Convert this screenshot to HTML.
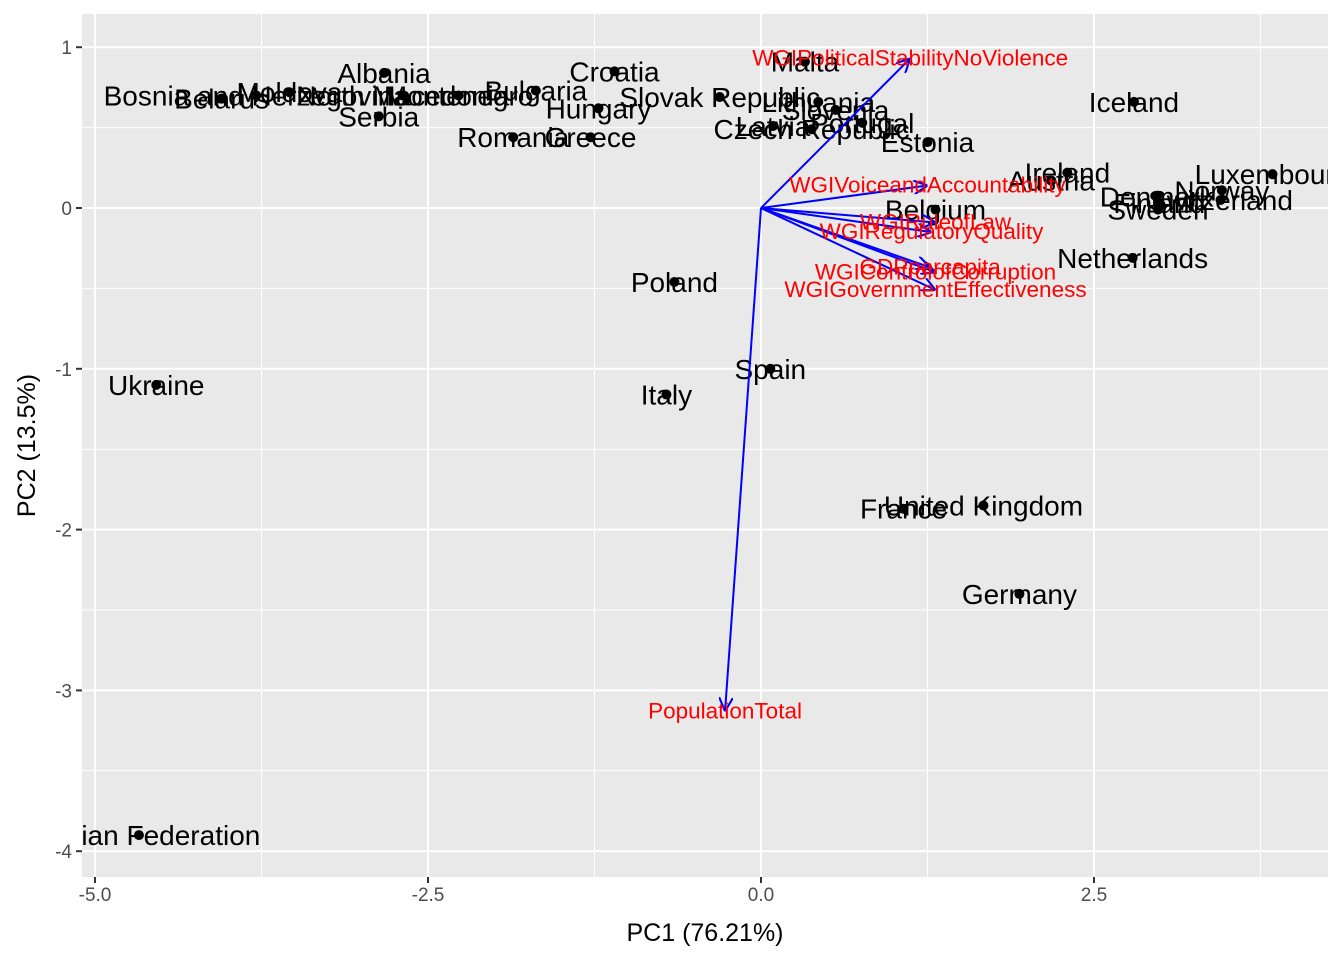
<!DOCTYPE html>
<html><head><meta charset="utf-8"><style>
body{margin:0;background:#fff;}
svg text{font-family:"Liberation Sans",Arial,sans-serif;}
</style></head><body>
<svg id="chart" width="1344" height="960" xmlns="http://www.w3.org/2000/svg"></svg>
<script>
const countries=["Bosnia and Herzegovina","Belarus","Moldova","North Macedonia","Montenegro","Albania","Serbia","Bulgaria","Croatia","Hungary","Romania","Greece","Slovak Republic","Malta","Lithuania","Slovenia","Latvia","Czech Republic","Portugal","Estonia","Iceland","Ireland","Austria","Luxembourg","Norway","Switzerland","Denmark","Finland","Sweden","Belgium","Netherlands","Poland","Spain","Italy","Ukraine","United Kingdom","France","Germany","Russian Federation"];
const pc1=[-3.79,-4.05,-3.54,-2.69,-2.27,-2.83,-2.87,-1.69,-1.10,-1.22,-1.86,-1.28,-0.31,0.33,0.43,0.56,0.09,0.38,0.76,1.25,2.80,2.30,2.18,3.84,3.46,3.45,2.97,2.99,2.98,1.31,2.79,-0.65,0.07,-0.71,-4.54,1.67,1.07,1.94,-4.67];
const pc2=[0.70,0.68,0.72,0.70,0.70,0.84,0.57,0.73,0.85,0.62,0.44,0.44,0.69,0.91,0.66,0.61,0.51,0.49,0.53,0.41,0.66,0.22,0.17,0.21,0.11,0.05,0.07,0.03,-0.01,-0.01,-0.31,-0.46,-1.00,-1.16,-1.10,-1.85,-1.87,-2.40,-3.90];
const vars=["WGIPoliticalStabilityNoViolence","WGIVoiceandAccountability","WGIRuleofLaw","WGIRegulatoryQuality","GDPpercapita","WGIControlofCorruption","WGIGovernmentEffectiveness","PopulationTotal"];
const load1=[1.12,1.25,1.31,1.28,1.27,1.31,1.31,-0.27];
const load2=[0.93,0.14,-0.09,-0.15,-0.37,-0.40,-0.51,-3.13];
const xTicks=[-5,-2.5,0,2.5];
const xTickLabels=["-5.0","-2.5","0.0","2.5"];
const yTicks=[1,0,-1,-2,-3,-4];
const yTickLabels=["1","0","-1","-2","-3","-4"];

const NS="http://www.w3.org/2000/svg";
const svg=document.getElementById('chart');
const L=82,R=1328,T=14,B=877;
const X=v=>761+v*133.2, Y=v=>208-v*160.8;
function mk(tag,a,p){const e=document.createElementNS(NS,tag);for(const k in a)e.setAttribute(k,a[k]);(p||svg).appendChild(e);return e;}
const defs=mk('defs',{});
const cp=mk('clipPath',{id:'clip'},defs);mk('rect',{x:L,y:T,width:R-L,height:B-T},cp);
const mrk=mk('marker',{id:'ah',viewBox:'0 0 10 10',refX:10,refY:5,markerWidth:14,markerHeight:14,orient:'auto',markerUnits:'userSpaceOnUse'},defs);
mk('path',{d:'M0,0 L10,5 L0,10',fill:'none',stroke:'blue','stroke-width':1.5},mrk);
const bg=mk('rect',{x:L,y:T,width:R-L,height:B-T,fill:'#E9E9E9'});


const grid=mk('g',{});


for(let v=-6.25;v<=5;v+=1.25){const p=X(v);if(p>L&&p<R){const major=xTicks.some(t=>Math.abs(t-v)<1e-6);mk('line',{x1:p,x2:p,y1:T,y2:B,stroke:'#fff','stroke-width':major?2:1},grid);}}
for(let v=-4.5;v<=1.5;v+=0.5){const p=Y(v);if(p>T&&p<B){const major=Math.abs(v-Math.round(v))<1e-6;mk('line',{x1:L,x2:R,y1:p,y2:p,stroke:'#fff','stroke-width':major?2:1},grid);}}
const plot=mk('g',{'clip-path':'url(#clip)'});
countries.forEach((c,i)=>{
 const d=mk('circle',{cx:X(pc1[i]),cy:Y(pc2[i]),r:5,fill:'#000'},plot);
 
 
 const t=mk('text',{x:X(pc1[i]),y:Y(pc2[i])+10,'font-size':28,'text-anchor':'middle',fill:'#000'},plot);
 t.textContent=c;
 
 
});
vars.forEach((v,i)=>{
 const a=mk('line',{x1:X(0),y1:Y(0),x2:X(load1[i]),y2:Y(load2[i]),stroke:'blue','stroke-width':2,'marker-end':'url(#ah)'},plot);
 
 
});
vars.forEach((v,i)=>{
 const t=mk('text',{x:X(load1[i]),y:Y(load2[i])+7,'font-size':22.5,'text-anchor':'middle',fill:'red'},plot);
 t.textContent=v;
 
 
});
const xa=mk('g',{});


xTicks.forEach((v,i)=>{mk('line',{x1:X(v),x2:X(v),y1:B,y2:B+6,stroke:'#333','stroke-width':2},xa);const t=mk('text',{x:X(v),y:B+24,'font-size':19,'text-anchor':'middle',fill:'#4D4D4D'},xa);t.textContent=xTickLabels[i];});
const ya=mk('g',{});


yTicks.forEach((v,i)=>{mk('line',{x1:L-6,x2:L,y1:Y(v),y2:Y(v),stroke:'#333','stroke-width':2},ya);const t=mk('text',{x:L-10,y:Y(v)+7,'font-size':19,'text-anchor':'end',fill:'#4D4D4D'},ya);t.textContent=yTickLabels[i];});
const xt=mk('text',{x:(L+R)/2,y:941,'font-size':25,'text-anchor':'middle',fill:'#000'});
xt.textContent='PC1 (76.21%)';


const yt=mk('text',{x:0,y:0,'font-size':25,'text-anchor':'middle',fill:'#000',transform:`translate(35,${(T+B)/2}) rotate(-90)`});
yt.textContent='PC2 (13.5%)';


</script>
</body></html>
